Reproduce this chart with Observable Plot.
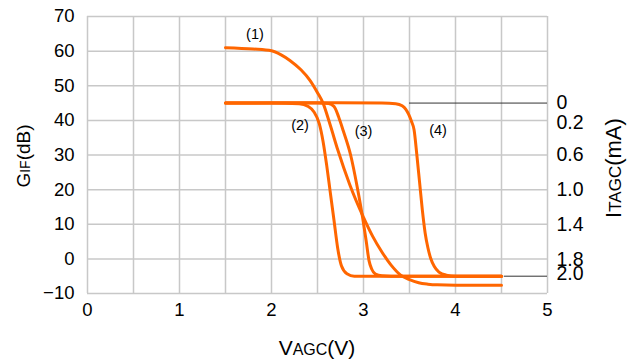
<!DOCTYPE html>
<html>
<head>
<meta charset="utf-8">
<script src="https://cdn.jsdelivr.net/npm/d3@7"></script>
<script src="https://cdn.jsdelivr.net/npm/@observablehq/plot@0.6"></script>
<style>
  html, body { margin: 0; padding: 0; background: #fff; }
  #chart { width: 627px; height: 359px; }
</style>
</head>
<body>
<div id="chart"></div>
<script>
// ---- data ----
const xTicks = [0, 1, 2, 3, 4, 5];
const xGrid = [0, 0.5, 1, 1.5, 2, 2.5, 3, 3.5, 4, 4.5, 5];
const yTicks = [-10, 0, 10, 20, 30, 40, 50, 60, 70];

// right axis: ITAGC (mA) labels and the GIF value where each sits
const iLabels = ["0", "0.2", "0.6", "1.0", "1.4", "1.8", "2.0"];
const iPos = [45, 39.4, 30, 20, 10, -0.2, -4.3];

// curve (1)
const c1v = [1.5, 1.8, 2.0, 2.1, 2.2, 2.32, 2.42, 2.5, 2.56, 2.64, 2.72, 2.85, 3.0, 3.1, 3.2, 3.3, 3.4, 3.5, 3.6, 3.7, 3.8, 4.0, 4.5];
const c1g = [61, 60.6, 60.1, 59, 57.3, 54.6, 51.5, 48, 45, 38.5, 31.5, 21.5, 12, 6.5, 2, -1.8, -4.6, -6, -6.9, -7.3, -7.5, -7.6, -7.6];
// curve (2)
const c2v = [1.5, 2.0, 2.3, 2.4, 2.46, 2.52, 2.56, 2.6, 2.64, 2.68, 2.72, 2.76, 2.82, 2.9, 3.0, 4.5];
const c2g = [45, 45, 44.8, 44, 42.5, 39, 34, 27, 19, 11, 3, -2, -4.3, -5, -5, -5];
// curve (3)
const c3v = [1.5, 2.0, 2.5, 2.62, 2.68, 2.73, 2.78, 2.86, 2.93, 2.99, 3.03, 3.06, 3.09, 3.13, 3.2, 3.3, 4.5];
const c3g = [45, 45, 45, 44.9, 44, 41, 37, 30, 21, 12, 5, -0.5, -3, -4.4, -4.9, -5, -5];
// curve (4)
const c4v = [1.5, 2.5, 3.2, 3.35, 3.42, 3.46, 3.49, 3.52, 3.55, 3.58, 3.61, 3.64, 3.67, 3.7, 3.73, 3.77, 3.82, 3.9, 4.0, 4.5];
const c4g = [45, 45.1, 45, 44.8, 44.2, 43.2, 41.8, 39.8, 37.2, 30, 22, 14, 7.5, 3.2, 0.2, -2.2, -3.8, -4.7, -5, -5];

// curve labels
const labelText = ["(1)", "(2)", "(3)", "(4)"];
const labelV = [1.82, 2.31, 3.0, 3.81];
const labelG = [64.8, 38.7, 36.7, 37];

// leader lines to the right axis
const leaderG = [45, -5];
const leaderV = [3.5, 4.53];

// ---- build ----
const curves = [[c1v, c1g], [c2v, c2g], [c3v, c3g], [c4v, c4g]];
const lineData = curves.flatMap(([vs, gs], k) => vs.map((v, i) => ({id: k + 1, v, g: gs[i]})));
const labels = labelText.map((t, i) => ({t, v: labelV[i], g: labelG[i]}));
const leaders = leaderG.map((g, i) => ({g, v: leaderV[i]}));

const chart = Plot.plot({
  width: 627,
  height: 359,
  marginLeft: 87,
  marginRight: 80,
  marginTop: 16,
  marginBottom: 66,
  style: {fontFamily: "'Liberation Sans', Arial, sans-serif", fontSize: "18.5px", color: "#000", background: "#fff", overflow: "visible"},
  x: {domain: [0, 5]},
  y: {domain: [-10, 70]},
  marks: [
    Plot.gridX({ticks: xGrid, stroke: "#c8c8c8", strokeOpacity: 1, strokeWidth: 1.5}),
    Plot.gridY({ticks: yTicks, stroke: "#c8c8c8", strokeOpacity: 1, strokeWidth: 1.5}),
    Plot.axisX({ticks: xTicks, tickFormat: d3.format("d"), tickSize: 0, tickPadding: 9, label: null}),
    Plot.axisY({ticks: yTicks, tickFormat: d3.format("d"), tickSize: 0, tickPadding: 13, label: null}),
    Plot.axisY({anchor: "right", ticks: iPos, tickFormat: d => iLabels[iPos.indexOf(d)], tickSize: 0, tickPadding: 9, fontSize: 19.5, label: null}),
    Plot.ruleY(leaders, {y: "g", x1: "v", x2: 5, stroke: "#333", strokeWidth: 1}),
    Plot.line(lineData, {x: "v", y: "g", z: "id", stroke: "#ff6600", strokeWidth: 3, curve: "monotone-x"}),
    Plot.text(labels, {x: "v", y: "g", text: "t", fontSize: 14.5, fill: "#000"})
  ]
});

const svg = d3.select(chart);
function title(x, y, rot, parts) {
  const t = svg.append("text")
    .attr("transform", `translate(${x},${y}) rotate(${rot})`)
    .attr("text-anchor", "middle")
    .attr("fill", "#000")
    .style("font-family", "'Liberation Sans', Arial, sans-serif");
  parts.forEach(([s, fs]) => t.append("tspan").attr("font-size", fs).text(s));
}
title(317, 355, 0, [["V", 21], ["AGC", 16], ["(V)", 21]]);
title(30, 156, -90, [["G", 19], ["IF", 14], ["(dB)", 19]]);
title(621, 168, -90, [["I", 22], ["TAGC", 17], ["(mA)", 22]]);

document.getElementById("chart").appendChild(chart);
</script>
</body>
</html>
